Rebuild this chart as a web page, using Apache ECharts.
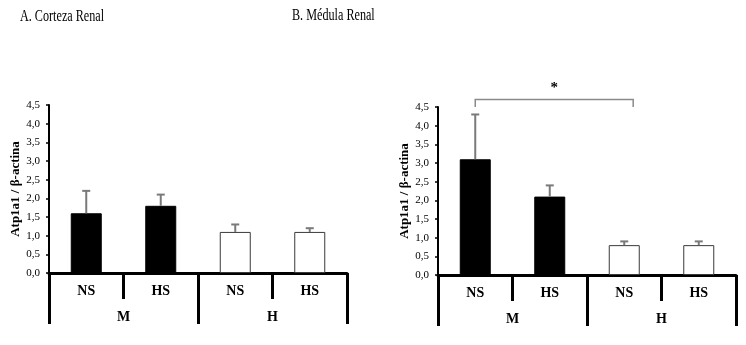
<!DOCTYPE html>
<html>
<head>
<meta charset="utf-8">
<script src="https://cdn.jsdelivr.net/npm/echarts@6/dist/echarts.min.js"></script>
<style>
  html, body { margin: 0; padding: 0; background: #fff; }
  #chart { width: 746px; height: 345px; }
</style>
</head>
<body>
<div id="chart"></div>
<script>
// Group labels
const treatments = ['NS', 'HS', 'NS', 'HS'];
const groups = ['M', 'H'];
const yTicks = [0, 0.5, 1, 1.5, 2, 2.5, 3, 3.5, 4, 4.5];

// Panel A: renal cortex (mean and error)
const corteza = [1.6, 1.8, 1.1, 1.1];
const cortezaErr = [0.6, 0.3, 0.2, 0.1];

// Panel B: renal medulla (mean and error)
const medula = [3.1, 2.1, 0.8, 0.8];
const medulaErr = [1.2, 0.3, 0.1, 0.1];

// Significance bracket in panel B: between category 0 and category 2
const sigPair = [0, 2];
const sigLevel = 4.7;

const SERIF = '"Liberation Serif", "Times New Roman", serif';
const fills = ['#000000', '#000000', '#ffffff', '#ffffff'];

function fmt(v) { return v.toFixed(1).replace('.', ','); }

function yAxisFor(gridIndex) {
  return {
    type: 'value', gridIndex,
    min: yTicks[0], max: yTicks[yTicks.length - 1], interval: yTicks[1] - yTicks[0],
    name: 'Atp1a1 / β-actina', nameLocation: 'middle', nameGap: 27,
    nameTextStyle: { fontFamily: SERIF, fontWeight: 'bold', fontSize: 13, color: '#000' },
    axisLine: { show: true, lineStyle: { color: '#000', width: 2 } },
    axisTick: { show: true, length: 3, lineStyle: { color: '#000', width: 1.5 } },
    splitLine: { show: false },
    axisLabel: { formatter: fmt, fontFamily: SERIF, fontSize: 11, color: '#000', margin: 9 }
  };
}

function xAxesFor(gridIndex) {
  return [{
    type: 'category', gridIndex, data: treatments, position: 'bottom', offset: 0,
    axisLine: { show: true, lineStyle: { color: '#000', width: 3 } },
    axisTick: { show: true, interval: 0, length: 26, lineStyle: { color: '#000', width: 3 } },
    axisLabel: { interval: 0, fontFamily: SERIF, fontWeight: 'bold', fontSize: 14, color: '#000', margin: 11 }
  }, {
    type: 'category', gridIndex, data: groups, position: 'bottom', offset: 0,
    axisLine: { show: false },
    axisTick: { show: true, interval: 0, length: 51, lineStyle: { color: '#000', width: 3 } },
    axisLabel: { interval: 0, fontFamily: SERIF, fontWeight: 'bold', fontSize: 14, color: '#000', margin: 37 }
  }];
}

function barSeries(axisIdx, values) {
  return {
    type: 'bar', xAxisIndex: axisIdx, yAxisIndex: axisIdx / 2, barWidth: 31,
    data: values.map((v, i) => ({
      value: v,
      itemStyle: { color: fills[i], borderColor: fills[i] === '#000000' ? '#000' : '#3a3a3a', borderWidth: 1 }
    })),
    z: 2
  };
}

function errSeries(axisIdx, values, errs) {
  return {
    type: 'custom', xAxisIndex: axisIdx, yAxisIndex: axisIdx / 2, z: 3,
    data: values.map((v, i) => [i, v, v + errs[i]]),
    renderItem(params, api) {
      const base = api.coord([api.value(0), api.value(1)]);
      const top = api.coord([api.value(0), api.value(2)]);
      const st = { stroke: '#7a7a7a', lineWidth: 2 };
      return {
        type: 'group', children: [
          { type: 'line', shape: { x1: base[0], y1: base[1], x2: top[0], y2: top[1] }, style: st },
          { type: 'line', shape: { x1: top[0] - 4, y1: top[1], x2: top[0] + 4, y2: top[1] }, style: st }
        ]
      };
    }
  };
}

const option = {
  animation: false,
  backgroundColor: '#fff',
  graphic: [
    { type: 'text', left: 20, top: 9, scaleX: 0.76,
      style: { text: 'A. Corteza Renal', font: '16px ' + SERIF, fill: '#000' } },
    { type: 'text', left: 292, top: 8, scaleX: 0.76,
      style: { text: 'B. Médula Renal', font: '16px ' + SERIF, fill: '#000' } }
  ],
  grid: [
    { left: 49, top: 105, width: 298, height: 168, containLabel: false },
    { left: 438, top: 107, width: 298, height: 168, containLabel: false }
  ],
  xAxis: [...xAxesFor(0), ...xAxesFor(1)],
  yAxis: [yAxisFor(0), yAxisFor(1)],
  series: [
    barSeries(0, corteza),
    errSeries(0, corteza, cortezaErr),
    barSeries(2, medula),
    errSeries(2, medula, medulaErr),
    {
      type: 'custom', xAxisIndex: 2, yAxisIndex: 1, z: 4, clip: false,
      data: [[sigPair[0], sigPair[1], sigLevel, yTicks[yTicks.length - 1]]],
      renderItem(params, api) {
        const band = api.size([1, 0])[0];
        const a = api.coord([api.value(0), api.value(2)]);
        const b = api.coord([api.value(1), api.value(2)]);
        const drop = api.coord([api.value(0), api.value(3)])[1];
        const x2 = b[0] + band * 0.12;
        const st = { stroke: '#8a8a8a', lineWidth: 1.5, fill: null };
        return {
          type: 'group', children: [
            { type: 'polyline', shape: { points: [[a[0], drop], [a[0], a[1]], [x2, a[1]], [x2, drop]] }, style: st },
            { type: 'text', x: (a[0] + x2) / 2, y: a[1] - 11,
              style: { text: '*', font: 'bold 15px ' + SERIF, fill: '#000', align: 'center', verticalAlign: 'middle' } }
          ]
        };
      }
    }
  ]
};

echarts.init(document.getElementById('chart'), null, { renderer: 'canvas' }).setOption(option);
</script>
</body>
</html>
